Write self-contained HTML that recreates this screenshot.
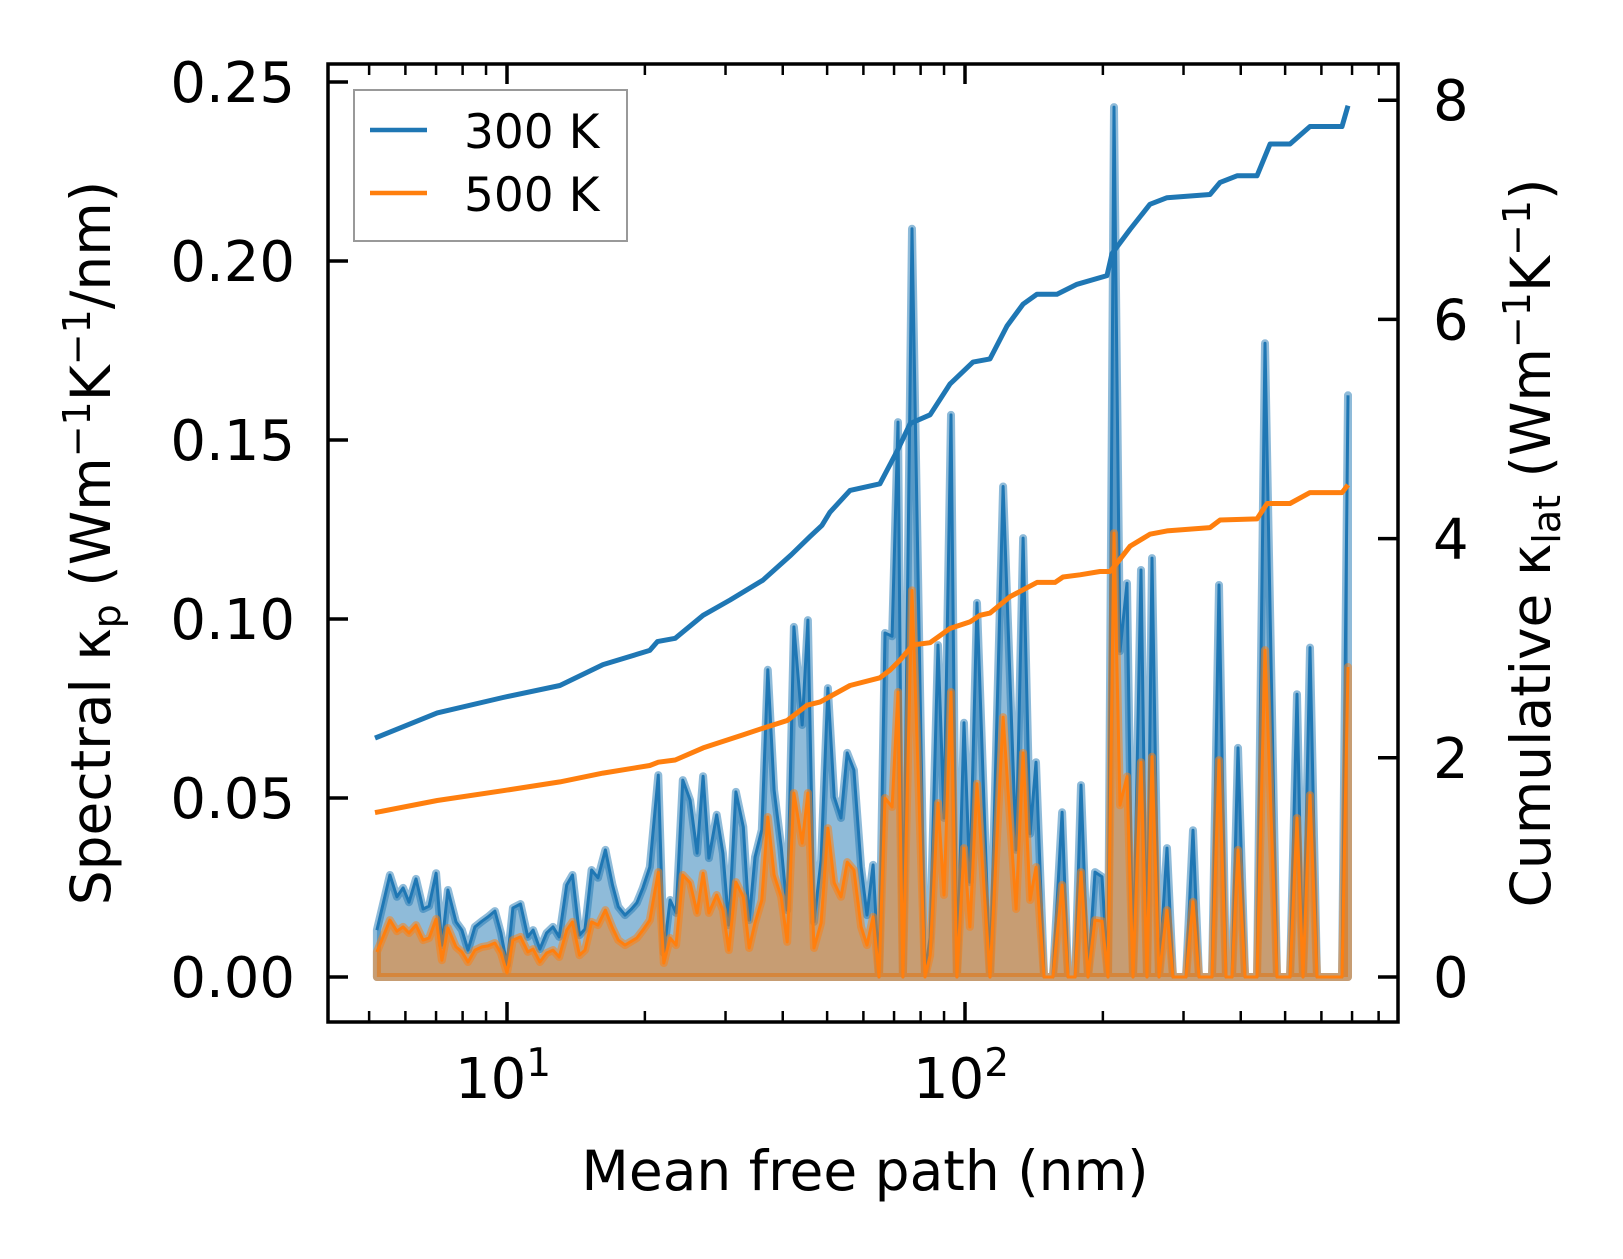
<!DOCTYPE html>
<html><head><meta charset="utf-8"><style>
html,body{margin:0;padding:0;background:#fff;}
svg{display:block;font-family:"DejaVu Sans","Liberation Sans",sans-serif;}
</style></head><body>
<svg id="chart" width="1623" height="1259" viewBox="0 0 1623 1259">
<g id="plot"></g>
<g id="axes"></g>
</svg>
<script>
const mfp = [5.20,5.55,5.75,5.93,6.11,6.33,6.56,6.76,7.00,7.21,7.43,7.74,7.97,8.22,8.51,8.82,9.09,9.41,9.70,10.0,10.3,10.7,11.1,11.4,11.8,12.2,12.6,13.0,13.5,13.9,14.4,14.8,15.3,15.8,16.4,17.0,17.5,18.1,18.7,19.2,19.8,20.5,21.4,22.0,22.7,23.4,24.2,25.1,26.0,26.8,27.6,28.7,29.6,30.5,31.6,32.8,33.8,34.8,36.0,37.1,38.3,39.7,40.9,42.3,44.1,45.4,46.8,48.5,50.2,51.8,53.6,55.3,57.2,59.3,61.1,63.0,64.9,66.9,69.3,71.4,73.2,76.6,81.8,83.9,87.3,90.0,93.2,96.0,99.5,102.5,106.2,113.4,121.1,129.3,133.9,138.7,142.9,148.8,155.6,162.9,167.9,173.9,179.2,185.6,192.2,199.1,205.2,211.5,218.0,225.8,232.7,242.3,249.7,256.0,265.2,276.1,284.5,303.8,314.6,324.3,346.2,358.6,371.5,382.8,394.6,408.8,434.1,451.9,480.0,512.4,530.8,547.0,566.6,586.9,665.5,686.0];
const spec300 = [.0131,.0285,.0224,.0249,.0209,.0274,.0190,.0198,.0290,.0089,.0243,.0154,.0131,.0075,.0140,.0156,.0168,.0184,.0123,.0034,.0193,.0204,.0112,.0131,.0078,.0123,.0140,.0112,.0257,.0285,.0117,.0134,.0299,.0277,.0355,.0257,.0196,.0173,.0190,.0207,.0249,.0307,.0564,.0067,.0215,.0179,.0550,.0494,.0346,.0561,.0332,.0453,.0346,.0145,.0517,.0419,.0159,.0335,.0411,.0858,.0522,.0363,.0187,.0978,.0704,.0997,.0154,.0327,.0807,.0503,.0444,.0626,.0578,.0307,.0173,.0313,0,.0961,.0952,.155,0,.209,.001,.011,.0927,.0444,.157,0,.071,.0265,.1045,0,.137,.0355,.1226,.040,.060,0,0,.046,0,0,.0536,0,.0293,.028,0,.243,.091,.110,0,.1137,0,.117,0,.036,0,0,.041,0,0,.1095,0,0,.064,0,0,.177,0,0,.079,0,.092,0,0,.1625];
const spec500 = [.0070,.0159,.0128,.0140,.0123,.0145,.0103,.0109,.0162,.0047,.0137,.0084,.0070,.0042,.0075,.0084,.0087,.0095,.0067,.0011,.0103,.0112,.0070,.0078,.0042,.0067,.0075,.0056,.0131,.0154,.0061,.0075,.0154,.0145,.0187,.0137,.0103,.0089,.0100,.0109,.0131,.0159,.0293,.0039,.0109,.0089,.0285,.0263,.0179,.0290,.0179,.0229,.0187,.0075,.0265,.0224,.0081,.0151,.0215,.0447,.0285,.0224,.0098,.0514,.0374,.0514,.0081,.0151,.0416,.0263,.0224,.0321,.0299,.0140,.0089,.0168,0,.0500,.0475,.0796,0,.108,0,.006,.0486,.0229,.0796,0,.036,.014,.054,0,.0726,.019,.0626,.0215,.0307,0,0,.0257,0,0,.0293,0,.0159,.0156,0,.124,.048,.056,0,.060,0,.0615,0,.0187,0,0,.021,0,0,.0606,0,0,.0355,0,0,.0913,0,0,.0444,0,.0508,0,0,.0866];
const cumMfp300 = [5.15,7.04,9.80,13.05,16.2,20.5,21.3,23.3,26.8,30.7,36.2,41.7,45.9,48.7,50.7,56.1,65.2,71.1,75.9,83.9,92.7,104.1,113.4,123.5,133.9,143.6,158.8,175.6,204.2,209.4,229.2,253.4,276.1,342.7,360.5,392.6,434.1,463.5,512.4,566.6,665.5,686.0];
const cum300 = [2.18,2.41,2.55,2.66,2.85,2.98,3.06,3.09,3.30,3.44,3.62,3.85,4.02,4.12,4.24,4.44,4.50,4.80,5.05,5.13,5.41,5.61,5.64,5.94,6.14,6.23,6.23,6.32,6.40,6.60,6.82,7.05,7.11,7.14,7.25,7.31,7.31,7.60,7.60,7.76,7.76,7.95];
const cumMfp500 = [5.15,7.04,9.80,13.05,16.2,20.5,21.4,23.3,26.8,32.8,36.2,40.9,45.2,48.3,56.1,65.2,68.6,72.1,77.0,83.9,92.7,102.5,107.8,113.4,125.4,143.6,157.2,163.7,178.3,197.1,207.3,210.5,229.2,253.4,276.1,342.7,360.5,434.1,456.6,512.4,566.6,665.5,686.0];
const cum500 = [1.50,1.61,1.70,1.78,1.86,1.93,1.96,1.98,2.09,2.21,2.27,2.34,2.48,2.51,2.66,2.73,2.80,2.89,3.03,3.05,3.18,3.24,3.30,3.32,3.47,3.60,3.60,3.65,3.67,3.70,3.70,3.73,3.93,4.04,4.07,4.10,4.17,4.18,4.32,4.32,4.42,4.42,4.49];
const leftTicks = [0,0.05,0.10,0.15,0.20,0.25];
const leftTickLabels = ["0.00","0.05","0.10","0.15","0.20","0.25"];
const rightTicks = [0,2,4,6,8];
const xMajor = [10,100];
const xMinor = [5,6,7,8,9,20,30,40,50,60,70,80,90,200,300,400,500,600,700,800];

const L=328,R=1398,T=64,B=1022;
const xS = m => 507 + 458*(Math.log10(m)-1);
const yL = v => 977 - v*3580;
const yR = v => 977 - v*109.6;
const NS='http://www.w3.org/2000/svg';
const plot=document.getElementById('plot'), axes=document.getElementById('axes');
function mk(tag, attrs, parent){const e=document.createElementNS(NS,tag);for(const k in attrs)e.setAttribute(k,attrs[k]);parent.appendChild(e);return e;}

function spectral(vals, color, nm){
  let pts = mfp.map((m,i)=>xS(m).toFixed(1)+','+yL(vals[i]).toFixed(1));
  const poly = [xS(mfp[0]).toFixed(1)+','+yL(0)].concat(pts,[xS(mfp[mfp.length-1]).toFixed(1)+','+yL(0)]);
  const f = mk('polygon',{points:poly.join(' '),fill:color,'fill-opacity':0.5,stroke:color,'stroke-opacity':0.5,'stroke-width':8,'stroke-linejoin':'round'},plot);
  
  
  const l = mk('polyline',{points:pts.join(' '),fill:'none',stroke:color,'stroke-width':3,'stroke-linejoin':'round'},plot);
  
  
}
spectral(spec300,'#1f77b4','spectral-300k');
spectral(spec500,'#ff7f0e','spectral-500k');
function cum(xs, vals, color, nm){
  const pts = xs.map((m,i)=>xS(m).toFixed(1)+','+yR(vals[i]).toFixed(1));
  const l = mk('polyline',{points:pts.join(' '),fill:'none',stroke:color,'stroke-width':5,'stroke-linejoin':'round'},plot);
  
  
}
cum(cumMfp300,cum300,'#1f77b4','cumulative-300k');
cum(cumMfp500,cum500,'#ff7f0e','cumulative-500k');

const fr = mk('rect',{x:L,y:T,width:R-L,height:B-T,fill:'none',stroke:'#000','stroke-width':3.5},axes);


function tick(x1,y1,x2,y2,w,nm){const t=mk('line',{x1,y1,x2,y2,stroke:'#000','stroke-width':w},axes);}
function txt(x,y,s,anchor,size,nm,extra){const t=mk('text',Object.assign({x,y,'text-anchor':anchor,'font-size':size,fill:'#000'},extra||{}),axes);t.innerHTML=s;return t;}
leftTicks.forEach((v,i)=>{const y=yL(v);tick(L,y,L+20,y,3.5,'y-left-tick');txt(295,y+20,leftTickLabels[i],'end',56,'y-left-tick-label');});
rightTicks.forEach(v=>{const y=yR(v);tick(R,y,R-20,y,3.5,'y-right-tick');txt(1433,y+20,String(v),'start',56,'y-right-tick-label');});
xMajor.forEach((m,i)=>{const x=xS(m);tick(x,B,x,B-20,3.5,'x-tick');tick(x,T,x,T+20,3.5,'x-top-tick');
  txt(x-4,1098,'10<tspan dy="-22" font-size="39">'+(i+1)+'</tspan>','middle',56,'x-tick-label');});
xMinor.forEach(m=>{const x=xS(m);tick(x,B,x,B-11,2.5,'x-minor-tick');tick(x,T,x,T+11,2.5,'x-top-minor-tick');});
txt(865,1190,'Mean free path (nm)','middle',55,'x-axis-title');
txt(0,0,'Spectral κ<tspan dy="10" font-size="38">p</tspan><tspan dy="-10"> (Wm</tspan><tspan dy="-20" font-size="38">−1</tspan><tspan dy="20">K</tspan><tspan dy="-20" font-size="38">−1</tspan><tspan dy="20">/nm)</tspan>','middle',55,'y-left-axis-title',{transform:'translate(110,543) rotate(-90)'});
txt(0,0,'Cumulative κ<tspan dy="10" font-size="38">lat</tspan><tspan dy="-10"> (Wm</tspan><tspan dy="-20" font-size="38">−1</tspan><tspan dy="20">K</tspan><tspan dy="-20" font-size="38">−1</tspan><tspan dy="20">)</tspan>','middle',55,'y-right-axis-title',{transform:'translate(1550,543) rotate(-90)'});
</script>
<script>
(function(){
const NS='http://www.w3.org/2000/svg';const svg=document.getElementById('chart');
const g=document.createElementNS(NS,'g');svg.appendChild(g);


g.innerHTML='<rect x="354" y="90" width="273" height="151" fill="#fff" fill-opacity="0.8" stroke="#999" stroke-width="2"/>'+
'<line x1="370" y1="130" x2="427" y2="130" stroke="#1f77b4" stroke-width="4.5"/>'+
'<text x="464" y="148" font-size="47">300 K</text>'+
'<line x1="370" y1="193" x2="427" y2="193" stroke="#ff7f0e" stroke-width="4.5"/>'+
'<text x="464" y="211" font-size="47">500 K</text>';
})();
</script>
</body></html>
